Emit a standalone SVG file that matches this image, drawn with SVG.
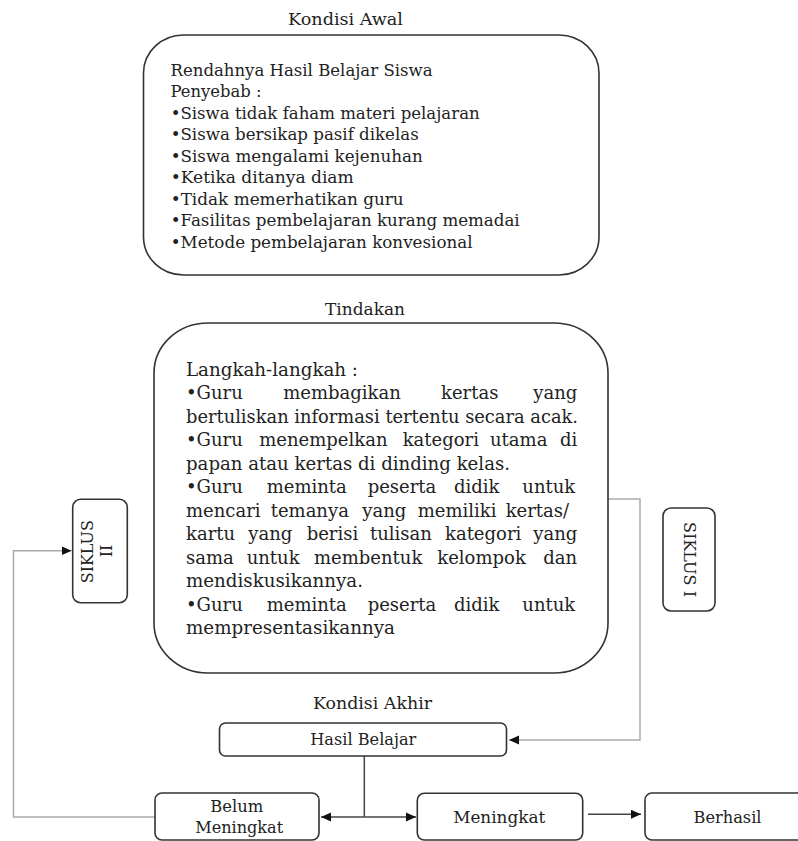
<svg xmlns="http://www.w3.org/2000/svg" width="798" height="841" viewBox="0 0 798 841">
<style>
text{font-family:"DejaVu Serif","Liberation Serif",serif;fill:#222;}
.box{fill:#fff;stroke:#333;stroke-width:1.6;}
.t1{font-size:16.5px;}
.t2{font-size:18px;}
.lbl{font-size:16px;}
.ttl{font-size:16px;text-anchor:middle;}
.c{text-anchor:middle;}
.gray{fill:none;stroke:#aaa;stroke-width:1.5;}
.dark{fill:none;stroke:#444;stroke-width:1.5;}
</style>
<defs>
<marker id="ah" markerUnits="userSpaceOnUse" markerWidth="10" markerHeight="10" viewBox="0 0 10 10" refX="10" refY="5" orient="auto">
<path d="M0,0.5 L10,5 L0,9.5 Z" fill="#111"/>
</marker>
</defs>

<g id="connectors">
<polyline class="gray" points="608,499 640,499 640,740 509,740" marker-end="url(#ah)"/>
<polyline class="gray" points="155,817 13.5,817 13.5,550.7 71.5,550.7" marker-end="url(#ah)"/>
<line class="dark" x1="364.3" y1="756" x2="364.3" y2="817"/>
<line class="dark" x1="364.3" y1="817" x2="321" y2="817" marker-end="url(#ah)"/>
<line class="dark" x1="364.3" y1="817" x2="416" y2="817" marker-end="url(#ah)"/>
<line class="dark" x1="588" y1="814.3" x2="641" y2="814.3" stroke-width="1.2" marker-end="url(#ah)"/>
</g>

<g id="title-kondisi-awal">
<text class="ttl" x="345.5" y="25" textLength="115" lengthAdjust="spacingAndGlyphs">Kondisi Awal</text>
</g>

<g id="kondisi-awal">
<rect class="box" x="143.5" y="35" width="455.5" height="240" rx="40" ry="38"/>
<text class="t1" x="170.5" y="75.5" textLength="262" lengthAdjust="spacingAndGlyphs">Rendahnya Hasil Belajar Siswa</text>
<text class="t1" x="170.5" y="97" textLength="91" lengthAdjust="spacingAndGlyphs">Penyebab :</text>
<text class="t1" x="170.7" y="118.5" textLength="309" lengthAdjust="spacingAndGlyphs">•Siswa tidak faham materi pelajaran</text>
<text class="t1" x="170.7" y="140" textLength="248" lengthAdjust="spacingAndGlyphs">•Siswa bersikap pasif dikelas</text>
<text class="t1" x="170.7" y="161.5" textLength="252" lengthAdjust="spacingAndGlyphs">•Siswa mengalami kejenuhan</text>
<text class="t1" x="170.7" y="183" textLength="183" lengthAdjust="spacingAndGlyphs">•Ketika ditanya diam</text>
<text class="t1" x="170.7" y="204.5" textLength="233" lengthAdjust="spacingAndGlyphs">•Tidak memerhatikan guru</text>
<text class="t1" x="170.7" y="226" textLength="349" lengthAdjust="spacingAndGlyphs">•Fasilitas pembelajaran kurang memadai</text>
<text class="t1" x="170.7" y="247.5" textLength="302" lengthAdjust="spacingAndGlyphs">•Metode pembelajaran konvesional</text>
</g>

<g id="title-tindakan">
<text class="ttl" x="365" y="315" textLength="80" lengthAdjust="spacingAndGlyphs">Tindakan</text>
</g>

<g id="tindakan">
<rect class="box" x="154" y="323" width="454" height="350" rx="54" ry="50"/>
<text class="t2" x="186" y="376" textLength="172" lengthAdjust="spacingAndGlyphs">Langkah-langkah :</text>
<text class="t2" y="399.45"><tspan x="186">•Guru</tspan><tspan x="283.3">membagikan</tspan><tspan x="441">kertas</tspan><tspan x="533.3">yang</tspan></text>
<text class="t2" x="186" y="422.9" textLength="392" lengthAdjust="spacingAndGlyphs">bertuliskan informasi tertentu secara acak.</text>
<text class="t2" y="446.35"><tspan x="186">•Guru</tspan><tspan x="259.3">menempelkan</tspan><tspan x="402.7">kategori</tspan><tspan x="490">utama</tspan><tspan x="560">di</tspan></text>
<text class="t2" x="186" y="469.8" textLength="324" lengthAdjust="spacingAndGlyphs">papan atau kertas di dinding kelas.</text>
<text class="t2" y="493.25"><tspan x="186">•Guru</tspan><tspan x="266.7">meminta</tspan><tspan x="367.7">peserta</tspan><tspan x="454">didik</tspan><tspan x="522.3">untuk</tspan></text>
<text class="t2" y="516.7"><tspan x="186">mencari</tspan><tspan x="270.7">temanya</tspan><tspan x="362.3">yang</tspan><tspan x="417.7">memiliki</tspan><tspan x="505.7">kertas/</tspan></text>
<text class="t2" y="540.15"><tspan x="186">kartu</tspan><tspan x="248.3">yang</tspan><tspan x="306.7">berisi</tspan><tspan x="370">tulisan</tspan><tspan x="445">kategori</tspan><tspan x="533.3">yang</tspan></text>
<text class="t2" y="563.6"><tspan x="186">sama</tspan><tspan x="246.7">untuk</tspan><tspan x="314">membentuk</tspan><tspan x="437.3">kelompok</tspan><tspan x="543.3">dan</tspan></text>
<text class="t2" x="186" y="587.05" textLength="177" lengthAdjust="spacingAndGlyphs">mendiskusikannya.</text>
<text class="t2" y="610.5"><tspan x="186">•Guru</tspan><tspan x="266.7">meminta</tspan><tspan x="367.7">peserta</tspan><tspan x="454">didik</tspan><tspan x="522.3">untuk</tspan></text>
<text class="t2" x="186" y="633.95" textLength="209" lengthAdjust="spacingAndGlyphs">mempresentasikannya</text>
</g>

<g id="siklus-2">
<rect class="box" x="72.7" y="499.3" width="54.6" height="103.4" rx="8"/>
<text class="lbl c" transform="translate(87,551.7) rotate(-90)" dy="0.36em" textLength="63" lengthAdjust="spacingAndGlyphs">SIKLUS</text>
<text class="lbl c" transform="translate(106.5,551) rotate(-90)" dy="0.36em">II</text>
</g>

<g id="siklus-1">
<rect class="box" x="663" y="508" width="52" height="103" rx="8"/>
<text class="lbl c" transform="translate(690,559.5) rotate(90)" dy="0.36em" textLength="75" lengthAdjust="spacingAndGlyphs">SIKLUS I</text>
</g>

<g id="title-kondisi-akhir">
<text class="ttl" x="372.5" y="709" textLength="119" lengthAdjust="spacingAndGlyphs">Kondisi Akhir</text>
</g>

<g id="hasil-belajar">
<rect class="box" x="219.5" y="723" width="287" height="33" rx="6"/>
<text class="lbl c" x="363.3" y="745" textLength="106" lengthAdjust="spacingAndGlyphs">Hasil Belajar</text>
</g>

<g id="belum-meningkat">
<rect class="box" x="155" y="793" width="164" height="47" rx="7"/>
<text class="lbl c" x="236.7" y="811.5" textLength="53" lengthAdjust="spacingAndGlyphs">Belum</text>
<text class="lbl c" x="239.2" y="833.3" textLength="88" lengthAdjust="spacingAndGlyphs">Meningkat</text>
</g>

<g id="meningkat">
<rect class="box" x="417.3" y="793.3" width="165.4" height="46.7" rx="7"/>
<text class="lbl c" x="499.2" y="823" textLength="92" lengthAdjust="spacingAndGlyphs">Meningkat</text>
</g>

<g id="berhasil">
<rect class="box" x="645" y="793" width="165" height="47" rx="7"/>
<text class="lbl c" x="727.5" y="823.3" textLength="68" lengthAdjust="spacingAndGlyphs">Berhasil</text>
</g>
</svg>
